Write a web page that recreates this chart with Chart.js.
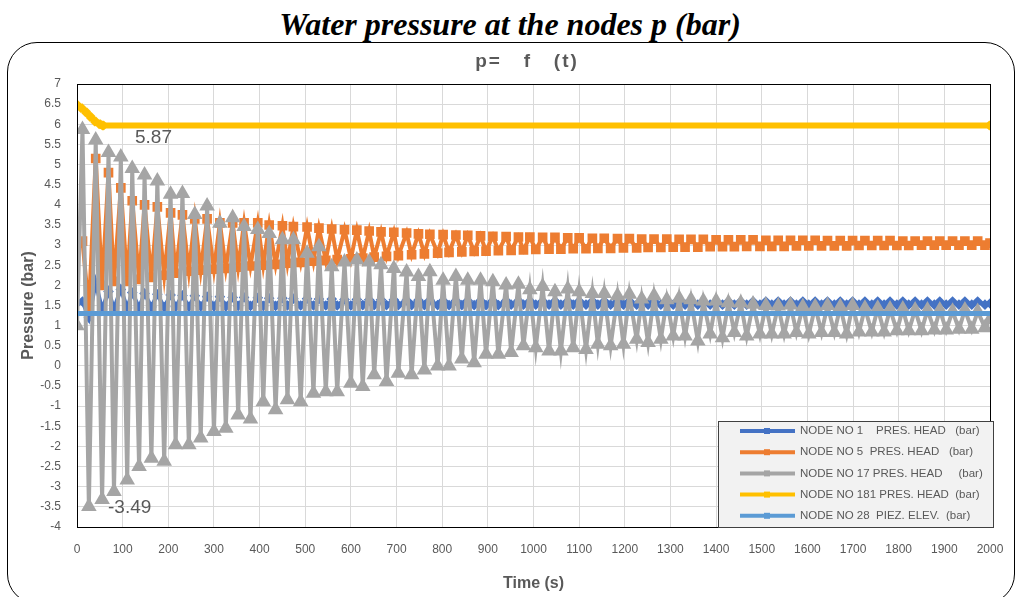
<!DOCTYPE html>
<html>
<head>
<meta charset="utf-8">
<script src="https://cdn.jsdelivr.net/npm/chart.js@4.4.0/dist/chart.umd.min.js"></script>
<style>
  body { margin: 0; background: #fff; }
  #wrap { position: relative; width: 1020px; height: 597px; overflow: hidden; }
  #mainTitle { position: absolute; left: 0; top: 6px; width: 1020px; text-align: center;
    font: italic bold 32px "Liberation Serif", "Times New Roman", serif; color: #000; line-height: 36px; }
  #frame { position: absolute; left: 7px; top: 42px; width: 1006px; height: 560px;
    border: 1.5px solid #000; border-radius: 30px; }
  canvas { position: absolute; left: 0; top: 0; }
</style>
</head>
<body>
<div id="wrap">
  <div id="mainTitle">Water pressure at the nodes p (bar)</div>
  <div id="frame"></div>
  <canvas id="pChart" width="1020" height="597"></canvas>
</div>
<script>
// time (s) of the read points: start, then alternating peak / trough of the oscillation
const timeOsc = [
  0, 12, 26, 41, 55, 69, 81, 96, 110, 121,
  136, 148, 163, 176, 191, 205, 216, 231, 245, 258,
  271, 285, 300, 313, 326, 341, 353, 366, 380, 396,
  408, 421, 435, 450, 461, 474, 490, 504, 518, 530,
  545, 558, 570, 586, 600, 613, 626, 640, 651, 666,
  678, 694, 704, 722, 733, 748, 761, 773, 790, 802,
  815, 830, 843, 856, 870, 884, 896, 911, 923, 940,
  951, 967, 978, 992, 1005, 1020, 1034, 1047, 1060, 1075,
  1087, 1100, 1115, 1129, 1141, 1155, 1169, 1184, 1197, 1210,
  1226, 1237, 1251, 1264, 1279, 1292, 1306, 1319, 1332, 1345,
  1360, 1372, 1387, 1400, 1414, 1427, 1440, 1454, 1467, 1481,
  1496, 1509, 1522, 1536, 1549, 1563, 1576, 1590, 1603, 1617,
  1631, 1644, 1659, 1672, 1686, 1699, 1713, 1726, 1741, 1754,
  1768, 1781, 1796, 1809, 1822, 1836, 1850, 1863, 1878, 1890,
  1904, 1918, 1932, 1945, 1960, 1973, 1989, 2000
];

const node1 = [
  1.56, 1.60, 1.20, 2.06, 1.40, 1.85, 1.42, 1.90, 1.44, 1.82,
  1.45, 1.80, 1.46, 1.78, 1.46, 1.76, 1.47, 1.75, 1.47, 1.74,
  1.48, 1.72, 1.48, 1.72, 1.48, 1.70, 1.49, 1.70, 1.49, 1.69,
  1.49, 1.68, 1.49, 1.68, 1.50, 1.67, 1.50, 1.67, 1.50, 1.66,
  1.50, 1.66, 1.50, 1.65, 1.50, 1.65, 1.51, 1.64, 1.51, 1.64,
  1.51, 1.64, 1.51, 1.63, 1.51, 1.63, 1.51, 1.63, 1.51, 1.62,
  1.51, 1.62, 1.51, 1.62, 1.51, 1.62, 1.51, 1.62, 1.51, 1.62,
  1.52, 1.62, 1.52, 1.61, 1.52, 1.61, 1.52, 1.61, 1.52, 1.61,
  1.52, 1.61, 1.52, 1.61, 1.52, 1.61, 1.52, 1.61, 1.52, 1.61,
  1.52, 1.61, 1.52, 1.61, 1.52, 1.61, 1.52, 1.61, 1.52, 1.61,
  1.52, 1.60, 1.52, 1.60, 1.52, 1.60, 1.52, 1.60, 1.52, 1.60,
  1.52, 1.60, 1.52, 1.60, 1.52, 1.60, 1.52, 1.60, 1.52, 1.60,
  1.52, 1.60, 1.52, 1.60, 1.52, 1.60, 1.52, 1.60, 1.52, 1.60,
  1.52, 1.60, 1.52, 1.60, 1.52, 1.60, 1.52, 1.60, 1.52, 1.60,
  1.52, 1.60, 1.52, 1.60, 1.52, 1.60, 1.52, 1.55
];

const node5 = [
  3.05, 3.10, 1.40, 5.15, 2.00, 4.80, 2.10, 4.42, 2.10, 4.10,
  2.15, 4.00, 2.20, 3.95, 2.25, 3.80, 2.30, 3.75, 2.35, 3.65,
  2.38, 3.65, 2.40, 3.55, 2.42, 3.55, 2.45, 3.55, 2.48, 3.55,
  2.50, 3.50, 2.52, 3.48, 2.55, 3.46, 2.57, 3.45, 2.60, 3.42,
  2.62, 3.40, 2.64, 3.38, 2.66, 3.37, 2.68, 3.35, 2.70, 3.33,
  2.72, 3.32, 2.74, 3.30, 2.76, 3.28, 2.78, 3.27, 2.80, 3.26,
  2.82, 3.25, 2.83, 3.24, 2.84, 3.23, 2.85, 3.22, 2.86, 3.21,
  2.87, 3.20, 2.88, 3.20, 2.89, 3.19, 2.90, 3.19, 2.90, 3.18,
  2.91, 3.18, 2.91, 3.17, 2.92, 3.17, 2.92, 3.16, 2.93, 3.16,
  2.93, 3.15, 2.94, 3.15, 2.94, 3.15, 2.95, 3.14, 2.95, 3.14,
  2.95, 3.14, 2.96, 3.13, 2.96, 3.13, 2.96, 3.13, 2.97, 3.13,
  2.97, 3.12, 2.97, 3.12, 2.97, 3.12, 2.98, 3.12, 2.98, 3.12,
  2.98, 3.11, 2.98, 3.11, 2.98, 3.11, 2.99, 3.11, 2.99, 3.11,
  2.99, 3.11, 2.99, 3.10, 2.99, 3.10, 3.00, 3.10, 3.00, 3.10,
  3.00, 3.10, 3.00, 3.10, 3.00, 3.10, 3.00, 3.05
];

const node17 = [
  1.00, 5.87, -3.49, 5.61, -3.32, 5.30, -3.12, 5.19, -2.83, 4.90,
  -2.50, 4.74, -2.29, 4.59, -2.37, 4.26, -1.96, 4.28, -1.96, 3.76,
  -1.79, 3.97, -1.63, 3.54, -1.55, 3.68, -1.22, 3.46, -1.32, 3.39,
  -0.89, 3.29, -1.09, 3.13, -0.84, 3.13, -0.89, 2.80, -0.68, 2.96,
  -0.64, 2.46, -0.64, 2.58, -0.43, 2.63, -0.51, 2.58, -0.22, 2.51,
  -0.39, 2.42, -0.18, 2.33, -0.22, 2.22, -0.10, 2.34, 0.00, 2.13,
  0.00, 2.22, 0.17, 2.13, 0.08, 2.13, 0.29, 2.09, 0.29, 2.01,
  0.33, 2.03, 0.50, 1.89, 0.45, 1.97, 0.37, 1.84, 0.37, 1.91,
  0.45, 1.84, 0.41, 1.80, 0.54, 1.80, 0.50, 1.74, 0.54, 1.78,
  0.66, 1.66, 0.58, 1.74, 0.66, 1.64, 0.74, 1.68, 0.74, 1.64,
  0.62, 1.61, 0.79, 1.61, 0.70, 1.57, 0.83, 1.56, 0.74, 1.53,
  0.79, 1.50, 0.79, 1.49, 0.79, 1.51, 0.83, 1.47, 0.79, 1.47,
  0.83, 1.50, 0.83, 1.47, 0.79, 1.50, 0.84, 1.43, 0.84, 1.43,
  0.84, 1.41, 0.87, 1.41, 0.87, 1.39, 0.87, 1.39, 0.89, 1.39,
  0.89, 1.36, 0.91, 1.39, 0.91, 1.35, 0.95, 1.15
];

const time181 = [0, 10, 20, 30, 40, 50, 57, 2000];
const node181 = [6.48, 6.40, 6.30, 6.18, 6.07, 6.00, 5.97, 5.97];

const time28 = [0, 2000];
const node28 = [1.30, 1.30];

const seriesNames = [
  "NODE NO 1    PRES. HEAD   (bar)",
  "NODE NO 5  PRES. HEAD   (bar)",
  "NODE NO 17 PRES. HEAD     (bar)",
  "NODE NO 181 PRES. HEAD  (bar)",
  "NODE NO 28  PIEZ. ELEV.  (bar)"
];
const seriesColors = ["#4472C4", "#ED7D31", "#A5A5A5", "#FFC000", "#5B9BD5"];
const seriesMarkers = ["rectRot", "rect", "triangle", "crossRot", "rect"];

function toPoints(ts, vs) {
  return ts.map((t, i) => ({ x: t, y: vs[i] }));
}

const textGrey = "#595959";
const baseFont = "'Liberation Sans', Arial, sans-serif";

// chart title, frame of the plot area, the two data labels and the legend box
const extrasPlugin = {
  id: "extras",
  afterDatasetsDraw(chart) {
    const { ctx, chartArea, scales } = chart;
    ctx.save();
    ctx.strokeStyle = "#000";
    ctx.lineWidth = 1;
    ctx.strokeRect(chartArea.left + 0.5, chartArea.top + 0.5,
      chartArea.right - chartArea.left, chartArea.bottom - chartArea.top);

    // title
    ctx.fillStyle = textGrey;
    ctx.font = "bold 19px " + baseFont;
    ctx.textAlign = "center";
    ctx.textBaseline = "middle";
    if ("letterSpacing" in ctx) ctx.letterSpacing = "2px";
    ctx.fillText("p=   f   (t)", 527, 62);
    if ("letterSpacing" in ctx) ctx.letterSpacing = "0px";

    // max / min labels of node 17
    const maxV = Math.max(...node17);
    const minV = Math.min(...node17);
    ctx.font = "19px " + baseFont;
    ctx.textAlign = "left";
    ctx.fillText(maxV.toFixed(2), scales.x.getPixelForValue(127), scales.y.getPixelForValue(maxV) + 8);
    ctx.fillText(minV.toFixed(2), scales.x.getPixelForValue(68), scales.y.getPixelForValue(minV) + 1);

    // legend
    const bx = 718, by = 421, bw = 275, bh = 106;
    ctx.fillStyle = "#f2f2f2";
    ctx.fillRect(bx, by, bw, bh);
    ctx.strokeStyle = "#404040";
    ctx.lineWidth = 1;
    ctx.strokeRect(bx + 0.5, by + 0.5, bw, bh);
    ctx.font = "11.5px " + baseFont;
    seriesNames.forEach((name, i) => {
      const y = by + 10 + i * 21.2;
      ctx.strokeStyle = seriesColors[i];
      ctx.lineWidth = 4;
      ctx.beginPath();
      ctx.moveTo(740, y);
      ctx.lineTo(795, y);
      ctx.stroke();
      ctx.fillStyle = seriesColors[i];
      ctx.fillRect(764, y - 3, 6, 6);
      ctx.fillStyle = textGrey;
      ctx.fillText(name, 800, y);
    });
    ctx.restore();
  }
};

const datasets = [
  { label: seriesNames[0], data: toPoints(timeOsc, node1), order: 5, borderWidth: 4, pointRadius: 2.5 },
  { label: seriesNames[1], data: toPoints(timeOsc, node5), order: 4, borderWidth: 4, pointRadius: 4 },
  { label: seriesNames[2], data: toPoints(timeOsc, node17), order: 3, borderWidth: 4, pointRadius: 5 },
  { label: seriesNames[3], data: toPoints(time181, node181), order: 2, borderWidth: 6, pointRadius: 4 },
  { label: seriesNames[4], data: toPoints(time28, node28), order: 1, borderWidth: 5, pointRadius: 0 }
];
datasets.forEach((d, i) => {
  d.borderColor = seriesColors[i];
  d.backgroundColor = seriesColors[i];
  d.pointBackgroundColor = seriesColors[i];
  d.pointBorderColor = seriesColors[i];
  d.pointStyle = seriesMarkers[i];
  d.fill = false;
  d.tension = 0;
});

new Chart(document.getElementById("pChart"), {
  type: "line",
  data: { datasets: datasets },
  plugins: [extrasPlugin],
  options: {
    responsive: false,
    animation: false,
    devicePixelRatio: 1,
    layout: { padding: { top: 84, left: 15, right: 30, bottom: 0 } },
    plugins: {
      legend: { display: false },
      tooltip: { enabled: false },
      title: { display: false }
    },
    scales: {
      x: {
        type: "linear",
        min: 0,
        max: 2000,
        ticks: { stepSize: 100, color: textGrey, font: { family: baseFont, size: 12 }, padding: 15, maxRotation: 0,
          callback: (v) => String(v) },
        grid: { color: "#d9d9d9", drawTicks: false },
        border: { display: false },
        title: { display: true, text: "Time (s)", color: textGrey, font: { family: baseFont, size: 16, weight: "bold" }, padding: 4 },
        afterFit: (s) => { s.height = 70; }
      },
      y: {
        min: -4,
        max: 7,
        ticks: { stepSize: 0.5, color: textGrey, font: { family: baseFont, size: 12 }, padding: 16,
          callback: (v) => String(Math.round(v * 10) / 10) },
        grid: { color: "#d9d9d9", drawTicks: false },
        border: { display: false },
        title: { display: true, text: "Pressure (bar)", color: textGrey, font: { family: baseFont, size: 16, weight: "bold" }, padding: 4 },
        afterFit: (s) => { s.width = 62; }
      }
    }
  }
});
</script>
</body>
</html>
